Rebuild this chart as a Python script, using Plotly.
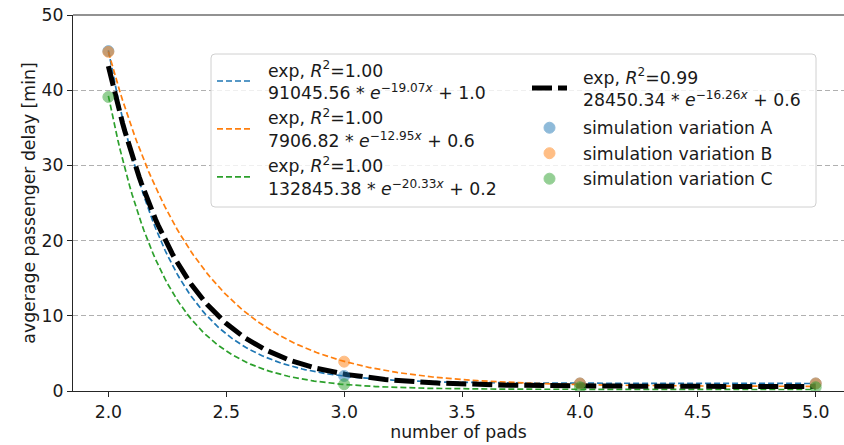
import numpy as np
import plotly.graph_objects as go

# Simulated average passenger delay per number of landing pads
pads = [2, 3, 4, 5]
delay_a = [45.2, 2.0, 1.0, 1.0]
delay_b = [45.1, 3.9, 1.0, 1.0]
delay_c = [39.1, 0.9, 0.5, 0.5]

# Exponential fits y = a * exp(-b * x) + c, fitted on pads normalised by max pads
fit_a = [91045.56, 7906.82, 132845.38, 28450.34]
fit_b = [19.07, 12.95, 20.33, 16.26]
fit_c = [1.0, 0.6, 0.2, 0.6]
fit_r2 = [1.00, 1.00, 1.00, 0.99]
max_pads = 5

colors = ["#1f77b4", "#ff7f0e", "#2ca02c"]
FONT = "DejaVu Sans"
FS = 17.3
TXT = "#1a1a1a"
PAD = "\u00a0\u00a0"  # gap between legend symbol and label

fig = go.Figure()

xs = np.linspace(min(pads), max(pads), 300)


def fit_label(i):
    return (f"{PAD}exp, <i>R</i><sup>2</sup>={fit_r2[i]:.2f}<br>"
            f"{PAD}{fit_a[i]:.2f} * <i>e</i><sup>\u2212{fit_b[i]:.2f}<i>x</i></sup> + {fit_c[i]:.1f}")


def fit_curve(i):
    return fit_a[i] * np.exp(-fit_b[i] * xs / max_pads) + fit_c[i]


for i in range(3):
    fig.add_trace(go.Scatter(
        x=xs, y=fit_curve(i), mode="lines", name=fit_label(i),
        line=dict(color=colors[i], width=1.7, dash="6px,3px"),
        legend="legend", legendgroup="fits",
    ))

fig.add_trace(go.Scatter(
    x=xs, y=fit_curve(3), mode="lines", name=fit_label(3),
    line=dict(color="black", width=5, dash="20px,6px"),
    legend="legend2", legendgroup="overall",
))

for i, (lab, vals) in enumerate(zip(["A", "B", "C"], [delay_a, delay_b, delay_c])):
    fig.add_trace(go.Scatter(
        x=pads, y=vals, mode="markers", name=f"{PAD}simulation variation {lab}",
        marker=dict(color=colors[i], size=11, opacity=0.5,
                    line=dict(color=colors[i], width=1)),
        legend="legend2", legendgroup="sims",
    ))

# plot area geometry (pixels)
W, H = 844, 445
ml, mr, mt, mb = 73, 0, 15, 54
pw, ph = W - ml - mr, H - mt - mb


def px_x(p):
    return (p - ml) / pw


def px_y(p):
    return (H - mb - p) / ph


# rounded legend frame
x0, x1 = px_x(211), px_x(816)
y1, y0 = px_y(54), px_y(207)
r = 4
rx, ry = r / pw, r / ph
frame = (f"M{x0 + rx},{y0} L{x1 - rx},{y0} Q{x1},{y0} {x1},{y0 + ry} "
         f"L{x1},{y1 - ry} Q{x1},{y1} {x1 - rx},{y1} "
         f"L{x0 + rx},{y1} Q{x0},{y1} {x0},{y1 - ry} "
         f"L{x0},{y0 + ry} Q{x0},{y0} {x0 + rx},{y0} Z")

axis_color = "#262626"
leg_font = dict(family=FONT, size=FS, color=TXT)

fig.update_layout(
    width=W, height=H,
    margin=dict(l=ml, r=mr, t=mt, b=mb),
    paper_bgcolor="white", plot_bgcolor="white",
    font=dict(family=FONT, size=FS, color=TXT),
    shapes=[
        dict(type="path", path=frame, xref="paper", yref="paper",
             line=dict(color="#d0d0d0", width=1), fillcolor="rgba(255,255,255,0.8)",
             layer="above"),
        dict(type="line", xref="paper", yref="paper", x0=0, x1=1, y0=1, y1=1,
             line=dict(color=axis_color, width=1.2), layer="above"),
    ],
    legend=dict(x=px_x(212), y=px_y(52), xanchor="left", yanchor="top",
                bgcolor="rgba(0,0,0,0)", borderwidth=0, itemwidth=35,
                font=leg_font, tracegroupgap=0, groupclick="toggleitem"),
    legend2=dict(x=px_x(527), y=px_y(59), xanchor="left", yanchor="top",
                 bgcolor="rgba(0,0,0,0)", borderwidth=0, itemwidth=35,
                 font=leg_font, tracegroupgap=3, groupclick="toggleitem"),
    showlegend=True,
)

fig.update_xaxes(
    range=[1.85, 5.12], tickvals=[2.0, 2.5, 3.0, 3.5, 4.0, 4.5, 5.0],
    ticktext=["2.0", "2.5", "3.0", "3.5", "4.0", "4.5", "5.0"],
    showgrid=False, zeroline=False, showline=True, linecolor=axis_color, linewidth=1.2,
    ticks="outside", ticklen=5, tickcolor=axis_color, tickwidth=1.2,
    tickfont=dict(family=FONT, size=FS, color=TXT),
    title=dict(text="number of pads", font=dict(family=FONT, size=FS, color=TXT),
               standoff=4),
)
fig.update_yaxes(
    range=[0, 50], tickvals=[0, 10, 20, 30, 40, 50],
    showgrid=True, gridcolor="#b0b0b0", griddash="5px,3px", gridwidth=1,
    zeroline=False, showline=True, linecolor=axis_color, linewidth=1.2,
    ticks="outside", ticklen=5, tickcolor=axis_color, tickwidth=1.2,
    tickfont=dict(family=FONT, size=FS, color=TXT),
    title=dict(text="avgerage passenger delay [min]",
               font=dict(family=FONT, size=FS, color=TXT), standoff=1),
)

fig.write_html("out.html")
